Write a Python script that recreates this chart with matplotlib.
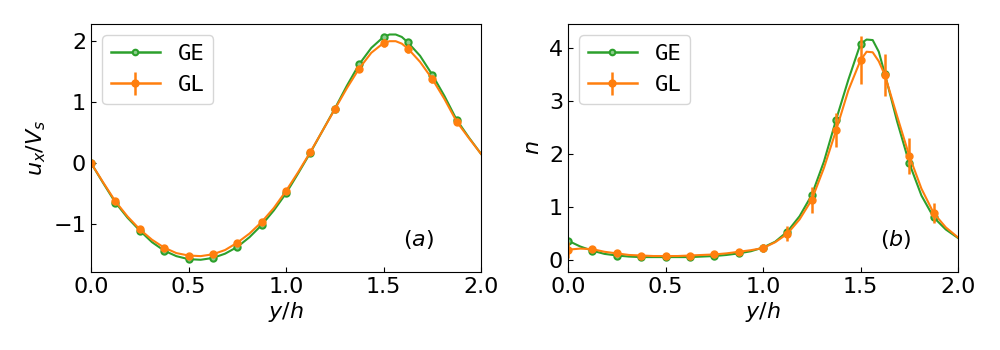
import matplotlib
matplotlib.use("Agg")
import matplotlib.pyplot as plt
from matplotlib.lines import Line2D

# marker positions
y_pts = [0.0, 0.125, 0.25, 0.375, 0.5, 0.625, 0.75, 0.875, 1.0,
         1.125, 1.25, 1.375, 1.5, 1.625, 1.75, 1.875]

# panel (a): u_x / V_s
ux_ge_pts = [0.00, -0.65, -1.11, -1.44, -1.58, -1.56, -1.38, -1.02, -0.50,
             0.17, 0.89, 1.62, 2.07, 1.98, 1.45, 0.71]
ux_gl_pts = [0.00, -0.63, -1.09, -1.39, -1.52, -1.50, -1.31, -0.97, -0.46,
             0.18, 0.88, 1.55, 1.97, 1.88, 1.38, 0.68]
ux_gl_err = [0.03, 0.03, 0.03, 0.03, 0.03, 0.03, 0.03, 0.03, 0.03,
             0.03, 0.04, 0.05, 0.07, 0.08, 0.07, 0.04]

# panel (b): n
n_ge_pts = [0.37, 0.18, 0.09, 0.06, 0.06, 0.06, 0.08, 0.13, 0.24,
            0.54, 1.23, 2.65, 4.08, 3.51, 1.83, 0.81]
n_gl_pts = [0.20, 0.21, 0.13, 0.09, 0.08, 0.09, 0.11, 0.16, 0.23,
            0.50, 1.14, 2.45, 3.77, 3.49, 1.97, 0.89]
n_gl_err = [0.15, 0.06, 0.05, 0.04, 0.04, 0.04, 0.04, 0.06, 0.07,
            0.14, 0.25, 0.32, 0.45, 0.39, 0.34, 0.18]

# line profiles
y_line = [0.0, 0.0625, 0.125, 0.1875, 0.25, 0.3125, 0.375, 0.4375, 0.5,
          0.5625, 0.625, 0.6875, 0.75, 0.8125, 0.875, 0.9375, 1.0, 1.0625,
          1.125, 1.1875, 1.25, 1.3125, 1.375, 1.4375, 1.5, 1.53125, 1.5625,
          1.59375, 1.625, 1.6875, 1.75, 1.8125, 1.875, 1.9375, 2.0]
ux_ge_line = [0.00, -0.33, -0.65, -0.90, -1.11, -1.30, -1.44, -1.53, -1.58,
              -1.59, -1.56, -1.49, -1.38, -1.22, -1.02, -0.78, -0.50, -0.17,
              0.17, 0.53, 0.89, 1.27, 1.62, 1.89, 2.07, 2.11, 2.11,
              2.07, 1.98, 1.76, 1.45, 1.10, 0.71, 0.42, 0.15]
ux_gl_line = [0.00, -0.32, -0.63, -0.88, -1.09, -1.26, -1.39, -1.48, -1.52,
              -1.53, -1.50, -1.43, -1.31, -1.16, -0.97, -0.74, -0.46, -0.15,
              0.18, 0.53, 0.88, 1.23, 1.55, 1.81, 1.97, 2.00, 2.00,
              1.96, 1.88, 1.66, 1.38, 1.05, 0.68, 0.41, 0.15]
n_ge_line = [0.37, 0.26, 0.18, 0.12, 0.09, 0.07, 0.06, 0.06, 0.06,
             0.06, 0.06, 0.07, 0.08, 0.10, 0.13, 0.17, 0.24, 0.35,
             0.54, 0.83, 1.23, 1.86, 2.65, 3.40, 4.08, 4.16, 4.15,
             3.93, 3.51, 2.62, 1.83, 1.22, 0.81, 0.58, 0.42]
n_gl_line = [0.20, 0.22, 0.21, 0.16, 0.13, 0.10, 0.09, 0.08, 0.08,
             0.08, 0.09, 0.10, 0.11, 0.13, 0.16, 0.19, 0.23, 0.34,
             0.50, 0.77, 1.14, 1.74, 2.45, 3.20, 3.77, 3.93, 3.92,
             3.75, 3.49, 2.72, 1.97, 1.35, 0.89, 0.62, 0.43]

GREEN = "#2ca02c"
ORANGE = "#ff7f0e"
GE_MFC = (0.55, 0.8, 0.55)

plt.rcParams["font.size"] = 16

fig = plt.figure(figsize=(10, 3.5), dpi=100)
ax1 = fig.add_axes([0.091, 0.223, 0.390, 0.708])
ax2 = fig.add_axes([0.568, 0.223, 0.390, 0.708])


def panel(ax, ge_line, gl_line, ge_pts, gl_pts, gl_err, ylabel, tag, ylim, yticks):
    ax.plot(y_line, ge_line, color=GREEN, lw=1.5)
    ax.plot(y_pts, ge_pts, ls="none", marker="o", ms=4.5, color=GREEN,
            mfc=GE_MFC, mew=1.5)
    ax.plot(y_line, gl_line, color=ORANGE, lw=1.5)
    ax.errorbar(y_pts, gl_pts, yerr=gl_err, fmt="o", ms=5, color=ORANGE,
                elinewidth=1.8)
    # legend proxies (no data)
    h1 = Line2D([], [], color=GREEN, lw=1.8, marker="o", ms=4, mfc=GE_MFC,
                mew=1.5)
    h2 = ax.errorbar([], [], yerr=[], fmt="-o", ms=5, color=ORANGE, lw=1.8,
                     elinewidth=1.8)
    ax.set_xlim(0, 2.0)
    ax.set_ylim(*ylim)
    ax.set_xticks([0.0, 0.5, 1.0, 1.5, 2.0])
    ax.set_yticks(yticks)
    ax.tick_params(direction="in", labelsize=16)
    ax.set_xlabel("$y/h$", fontsize=16, labelpad=2)
    ax.set_ylabel(ylabel, fontsize=16)
    ax.text(0.84, 0.13, tag, transform=ax.transAxes, fontsize=16, ha="center",
            va="center")
    ax.legend([h1, h2], ["GE", "GL"], loc="upper left",
              prop={"family": "DejaVu Sans Mono", "size": 16},
              handlelength=2.2)


panel(ax1, ux_ge_line, ux_gl_line, ux_ge_pts, ux_gl_pts, ux_gl_err,
      "$u_x/V_s$", "$(a)$", (-1.79, 2.28), [-1, 0, 1, 2])
panel(ax2, n_ge_line, n_gl_line, n_ge_pts, n_gl_pts, n_gl_err,
      "$n$", "$(b)$", (-0.22, 4.45), [0, 1, 2, 3, 4])

fig.savefig("out.png", dpi=100)
